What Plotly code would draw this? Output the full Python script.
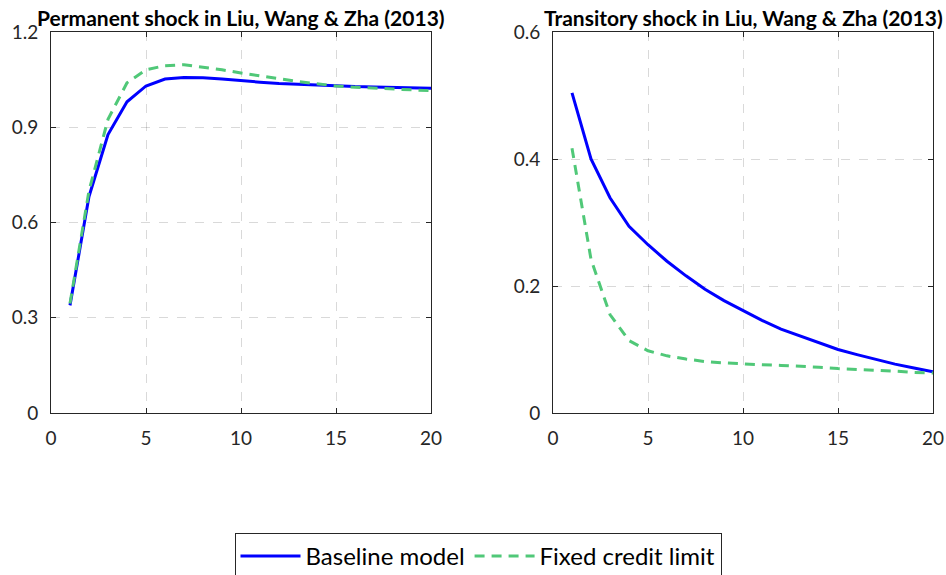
import plotly.graph_objects as go

periods = list(range(1, 21))
perm_baseline = [0.339, 0.682, 0.877, 0.980, 1.030, 1.052, 1.057, 1.056, 1.052, 1.046,
                 1.042, 1.038, 1.035, 1.032, 1.030, 1.028, 1.027, 1.025, 1.024, 1.023]
perm_fixed = [0.345, 0.700, 0.925, 1.040, 1.081, 1.094, 1.097, 1.090, 1.081, 1.071,
              1.062, 1.052, 1.044, 1.037, 1.030, 1.026, 1.023, 1.020, 1.017, 1.015]
trans_baseline = [0.504, 0.400, 0.339, 0.294, 0.265, 0.239, 0.216, 0.195, 0.177, 0.161,
                  0.146, 0.132, 0.121, 0.110, 0.100, 0.092, 0.084, 0.077, 0.071, 0.065]
trans_fixed = [0.417, 0.242, 0.155, 0.114, 0.098, 0.090, 0.085, 0.081, 0.079, 0.077,
               0.076, 0.075, 0.074, 0.072, 0.070, 0.069, 0.067, 0.066, 0.064, 0.063]
titles = ["Permanent shock in Liu, Wang & Zha (2013)", "Transitory shock in Liu, Wang & Zha (2013)"]
x_ticks = [0, 5, 10, 15, 20]
y_ticks_left = [0, 0.3, 0.6, 0.9, 1.2]
y_ticks_right = [0, 0.2, 0.4, 0.6]

BLUE = "#0000FF"
GREEN = "rgb(80,200,120)"
FONT = "Lato, Open Sans, sans-serif"
AX = "#262626"

fig = go.Figure()
fig.add_trace(go.Scatter(x=periods, y=perm_baseline, mode="lines", name="Baseline model",
                         line=dict(color=BLUE, width=3), xaxis="x", yaxis="y"))
fig.add_trace(go.Scatter(x=periods, y=perm_fixed, mode="lines", name="Fixed credit limit",
                         line=dict(color=GREEN, width=3, dash="10px,7px"), xaxis="x", yaxis="y"))
fig.add_trace(go.Scatter(x=periods, y=trans_baseline, mode="lines", showlegend=False,
                         line=dict(color=BLUE, width=3), xaxis="x2", yaxis="y2"))
fig.add_trace(go.Scatter(x=periods, y=trans_fixed, mode="lines", showlegend=False,
                         line=dict(color=GREEN, width=3, dash="10px,7px"), xaxis="x2", yaxis="y2"))

W, H = 946, 575
ydom = [1 - 413 / H, 1 - 32 / H]
common = dict(showline=True, linecolor=AX, linewidth=1, mirror="ticks", ticks="inside",
              ticklen=5, tickcolor=AX, showgrid=True, gridcolor="rgba(0,0,0,0.15)",
              griddash="dash", gridwidth=1, zeroline=False, automargin=False,
              tickfont=dict(family=FONT, size=19, color=AX))

fig.update_layout(
    width=W, height=H, margin=dict(l=0, r=0, t=0, b=0, autoexpand=False),
    plot_bgcolor="white", paper_bgcolor="white",
    xaxis=dict(domain=[51 / W, 431 / W], range=[0, 20], tickvals=x_ticks, anchor="y",
               ticklabelstandoff=8, **common),
    yaxis=dict(domain=ydom, range=[0, 1.2], tickvals=y_ticks_left,
               ticktext=[str(v) for v in y_ticks_left], anchor="x", ticklabelstandoff=8, **common),
    xaxis2=dict(domain=[553 / W, 933 / W], range=[0, 20], tickvals=x_ticks, anchor="y2",
                ticklabelstandoff=8, **common),
    yaxis2=dict(domain=ydom, range=[0, 0.6], tickvals=y_ticks_right,
                ticktext=[str(v) for v in y_ticks_right], anchor="x2", ticklabelstandoff=8, **common),
    legend=dict(orientation="h", x=478 / W, xanchor="center", y=1 - 533 / H, yanchor="top",
                bordercolor=AX, borderwidth=1, bgcolor="white",
                font=dict(family=FONT, size=24, color="black"), itemwidth=60),
    showlegend=True,
)
for t, xc in zip(titles, [241, 743]):
    fig.add_annotation(text="<b>" + t + "</b>", x=xc / W, y=1 - 17 / H, xref="paper", yref="paper",
                       showarrow=False, font=dict(family=FONT, size=21, color="black"),
                       xanchor="center", yanchor="middle")

fig.write_html("out.html")
